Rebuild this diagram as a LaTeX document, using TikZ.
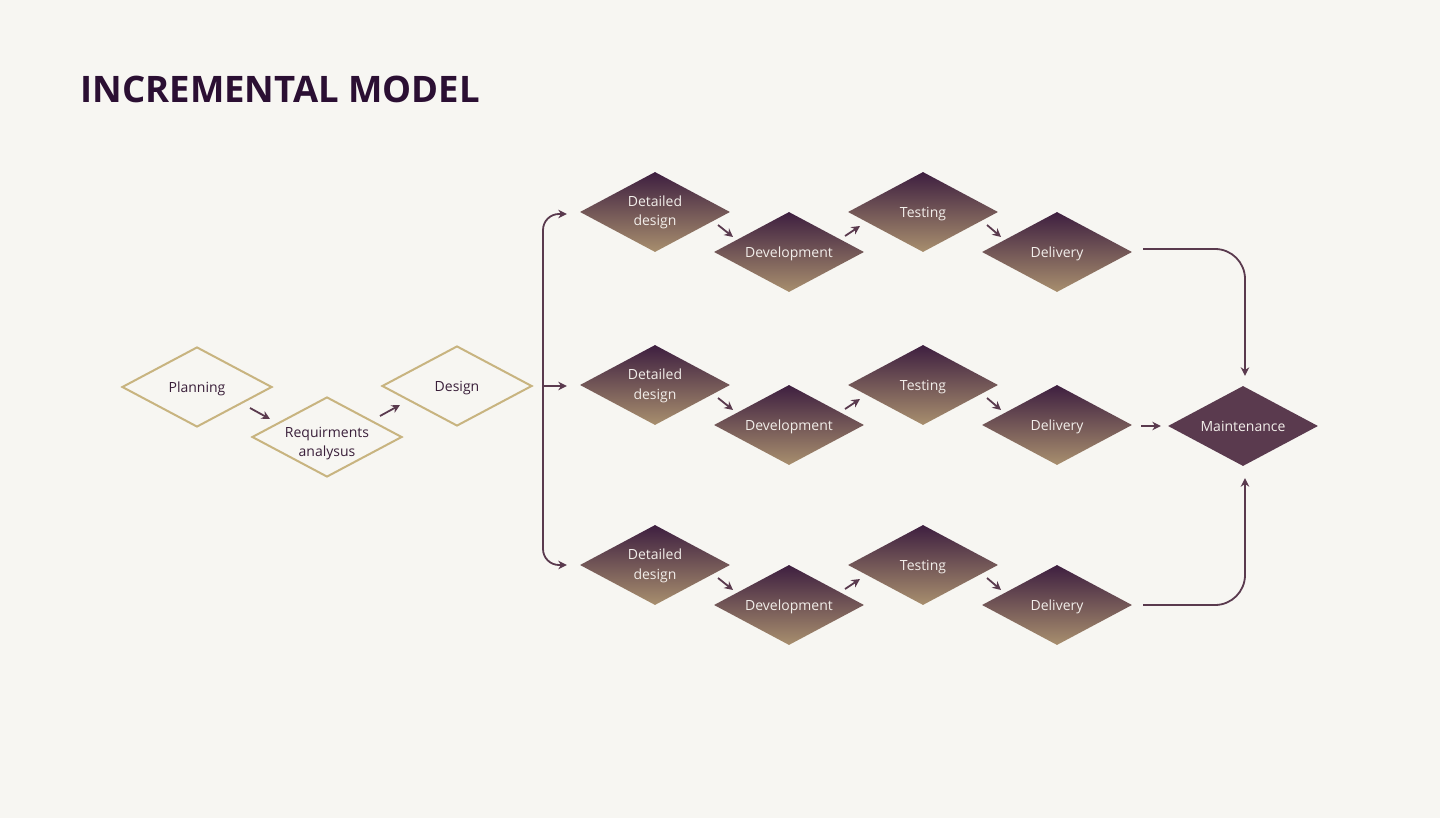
\documentclass[tikz,border=0pt]{standalone}
\usepackage{fontspec}
\setmainfont{Open Sans}
\usetikzlibrary{shapes.geometric,arrows.meta,calc}
\definecolor{bgc}{HTML}{F7F6F2}
\definecolor{titlec}{HTML}{2B0F33}
\definecolor{linec}{HTML}{5A3A4E}
\definecolor{tanc}{HTML}{C8B480}
\definecolor{gtop}{HTML}{3E1F40}
\definecolor{gbot}{HTML}{A88F6E}
\definecolor{maintc}{HTML}{5A3A4E}
\definecolor{darktxt}{HTML}{3A1F3A}
\definecolor{lighttxt}{HTML}{F2EEEA}
\newcommand{\onel}[1]{\raisebox{-5.3pt}[0pt][0pt]{#1}}
\newcommand{\twol}[3]{\raisebox{#1}[0pt][0pt]{\begin{tabular}[t]{@{}c@{}}#2\\#3\end{tabular}}}
\tikzset{
  dia/.style={diamond, aspect=1.875, minimum width=150pt, minimum height=80pt, inner sep=0pt, font=\fontsize{14}{19.3}\selectfont},
  outl/.style={dia, draw=tanc, line width=2pt, text=darktxt},
  grad/.style={dia, top color=gtop, bottom color=gbot, text=lighttxt},
  maintbox/.style={dia, fill=maintc, text=lighttxt},
  conn/.style={draw=linec, line width=1.8pt, -{Stealth[length=8.5pt,width=8.5pt]}},
}
\begin{document}
\begin{tikzpicture}[x=1pt,y=-1pt]
\fill[bgc] (0,0) rectangle (1440,818);
\useasboundingbox (0,0) rectangle (1440,818);
\node[anchor=west, text=titlec, font=\fontsize{36.5}{44}\selectfont\bfseries] (title) at (77,89) {INCREMENTAL MODEL};

\node[outl] (plan) at (197,387) {\onel{Planning}};
\node[outl] (req) at (327,437) {\twol{0pt}{Requirments}{analysus}};
\node[outl] (des) at (457,386) {\onel{Design}};

\foreach \r/\y in {1/212, 2/385, 3/565}{
  \node[grad] (dd\r) at (655,\y) {\twol{5.3pt}{Detailed}{design}};
  \node[grad] (dev\r) at (789,\y+40) {\onel{Development}};
  \node[grad] (tst\r) at (923,\y) {\onel{Testing}};
  \node[grad] (del\r) at (1057,\y+40) {\onel{Delivery}};
  \draw[conn] ($(dd\r.center)+(63,13)$) -- ($(dev\r.center)+(-56,-15)$);
  \draw[conn] ($(dev\r.center)+(56,-16)$) -- ($(tst\r.center)+(-63,14)$);
  \draw[conn] ($(tst\r.center)+(64,13)$) -- ($(del\r.center)+(-56,-15)$);
}
\node[maintbox] (maint) at (1243,426) {\onel{Maintenance}};

\draw[conn] ($(plan.center)+(53,21)$) -- ($(req.center)+(-57,-18)$);
\draw[conn] ($(req.center)+(53,-21)$) -- ($(des.center)+(-57,19)$);

\coordinate (j) at (543,386);
\draw[conn, rounded corners=16pt] (j) |- ($(dd1.west)+(-13,2)$);
\draw[conn, rounded corners=16pt] (j) |- ($(dd3.west)+(-13,0)$);
\draw[conn] (j) -- ($(dd2.west)+(-13,1)$);

\draw[conn, rounded corners=30pt] ($(del1.center)+(86,-3)$) -| ($(maint.north)+(2,-10)$);
\draw[conn] ($(del2.center)+(84,1)$) -- ($(maint.west)+(-7,0)$);
\draw[conn, rounded corners=30pt] ($(del3.center)+(86,0)$) -| ($(maint.south)+(2,12)$);
\end{tikzpicture}
\end{document}
